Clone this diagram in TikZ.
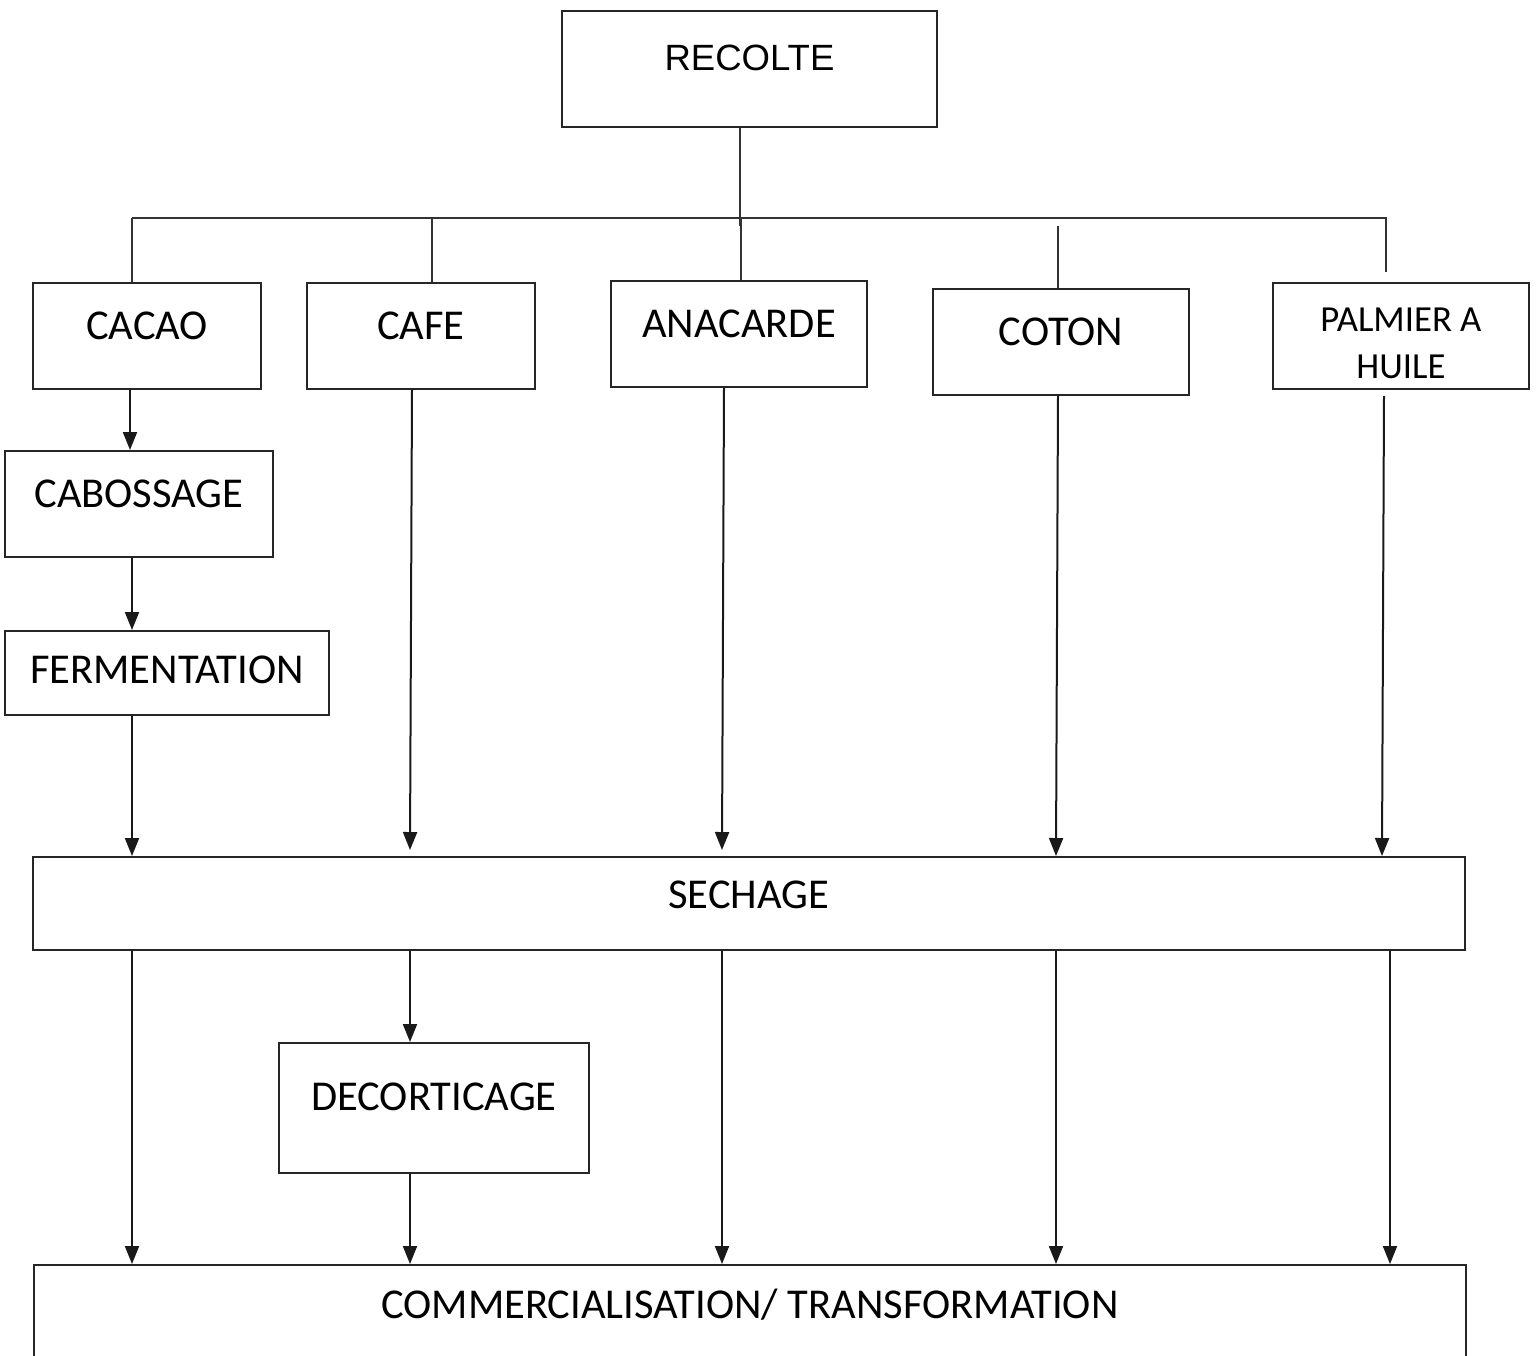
\documentclass[tikz,border=0pt]{standalone}
\usepackage{fontspec}
\setmainfont{Carlito}
\newfontfamily\arialfont{Liberation Sans}
\usepackage{tikz}
\usetikzlibrary{arrows.meta}

\tikzset{
  stepbox/.style={draw=black!85, line width=0.04cm, rectangle, inner sep=0pt,
    anchor=north west, font=\fontsize{24.2}{28}\selectfont},
  flow/.style={draw=black!90, line width=0.04cm, -{Triangle[length=0.36cm,width=0.28cm]}},
  tree/.style={draw=black!80, line width=0.025cm}
}

\begin{document}
\begin{tikzpicture}[x=0.02cm, y=-0.02cm]

          \useasboundingbox (0,0) rectangle (1539,1356);

          % Top box
          \node[stepbox, minimum width=7.5cm, text height=1.2cm, text depth=1.12cm,
            font=\arialfont\fontsize{20.8}{25}\selectfont] (recolte) at (561,10) {RECOLTE};

          % Crops
          \node[stepbox, minimum width=4.56cm, text height=1.14cm, text depth=0.98cm] (cacao) at (32,282) {CACAO};
          \node[stepbox, minimum width=4.56cm, text height=1.14cm, text depth=0.98cm] (cafe) at (306,282) {CAFE};
          \node[stepbox, minimum width=5.12cm, text height=1.14cm, text depth=0.98cm] (anacarde) at (610,280) {ANACARDE};
          \node[stepbox, minimum width=5.12cm, text height=1.14cm, text depth=0.98cm] (coton) at (932,288) {COTON};
          \node[stepbox, minimum width=5.12cm, text height=1.92cm, text depth=0.2cm, align=center,
            font=\fontsize{20.9}{27.3}\selectfont] (palmier) at (1272,282) {PALMIER A\\HUILE};

          % Cacao steps
          \node[stepbox, minimum width=5.36cm, text height=1.14cm, text depth=0.98cm] (cabossage) at (4,450) {CABOSSAGE};
          \node[stepbox, minimum width=6.48cm, text height=1.06cm, text depth=0.62cm] (fermentation) at (4,630) {FERMENTATION};

          % Drying
          \node[stepbox, minimum width=28.64cm, text height=1.04cm, text depth=0.82cm] (sechage) at (32,856) {SECHAGE};

          % Shelling
          \node[stepbox, minimum width=6.2cm, text height=1.36cm, text depth=1.24cm] (decorticage) at (278,1042) {DECORTICAGE};

          % Bottom box, cut by the page edge
          \node[stepbox, minimum width=28.64cm, text height=1.06cm, text depth=1.8cm] (commerce) at (33,1264) {COMMERCIALISATION/ TRANSFORMATION};

          % Tree under RECOLTE
          \coordinate (jl) at (132,218);
          \coordinate (jr) at (1387,218);
          \draw[tree] (recolte.south -| 740,0) -- (740,226);
          \draw[tree] (jl) -- (jr);
          \draw[tree] (jl) -- (cacao.north -| jl);
          \draw[tree] (432,218) -- (cafe.north -| 432,0);
          \draw[tree] (741,218) -- (anacarde.north -| 741,0);
          \draw[tree] (1058,226) -- (coton.north -| 1058,0);
          \draw[tree] (1386,218) -- (1386,272);

          % Cacao chain
          \draw[flow] (cacao.south -| 130,0) -- (cabossage.north -| 130,0);
          \draw[flow] (cabossage.south -| 132,0) -- (fermentation.north -| 132,0);
          \draw[flow] (fermentation.south -| 132,0) -- (sechage.north -| 132,0);

          % Other crops to SECHAGE
          \draw[flow] (cafe.south -| 412,0) -- (410,850);
          \draw[flow] (anacarde.south -| 724,0) -- (722,850);
          \draw[flow] (coton.south -| 1058,0) -- (sechage.north -| 1056,0);
          \draw[flow] (1384,396) -- (sechage.north -| 1382,0);

          % SECHAGE to the bottom box
          \draw[flow] (sechage.south -| 132,0) -- (commerce.north -| 132,0);
          \draw[flow] (sechage.south -| 410,0) -- (decorticage.north -| 410,0);
          \draw[flow] (decorticage.south -| 410,0) -- (commerce.north -| 410,0);
          \draw[flow] (sechage.south -| 722,0) -- (commerce.north -| 722,0);
          \draw[flow] (sechage.south -| 1056,0) -- (commerce.north -| 1056,0);
          \draw[flow] (sechage.south -| 1390,0) -- (commerce.north -| 1390,0);

      \end{tikzpicture}
\end{document}
